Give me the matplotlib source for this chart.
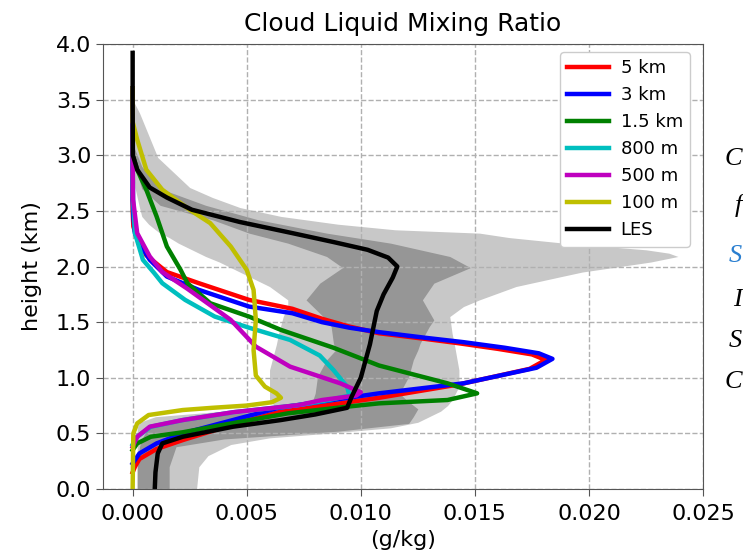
import numpy as np
import matplotlib
matplotlib.use('Agg')
import matplotlib.pyplot as plt

# profiles, x in g/kg, z in km
z_5km = [3.6, 3.0, 2.5, 2.36, 2.25, 2.1, 1.95, 1.85, 1.70, 1.62, 1.53, 1.46, 1.40, 1.35, 1.31, 1.26,
         1.21, 1.16, 1.08, 0.94, 0.82, 0.69, 0.58, 0.44, 0.36, 0.27, 0.2, 0.15]
x_5km = [0, 0, 0, 0.00003, 0.0002, 0.0006, 0.0015, 0.0029, 0.0051, 0.0070, 0.0083, 0.0095, 0.0108, 0.0128,
         0.0143, 0.0160, 0.0175, 0.0181, 0.0174, 0.0143, 0.0108, 0.0064, 0.0044, 0.0022, 0.00105, 0.0003,
         0.0001, 0.0]

z_3km = [3.6, 3.0, 2.6, 2.45, 2.3, 2.21, 2.06, 1.91, 1.79, 1.64, 1.58, 1.50, 1.45, 1.41, 1.36, 1.32,
         1.27, 1.22, 1.17, 1.09, 0.95, 0.86, 0.73, 0.62, 0.50, 0.41, 0.32, 0.26, 0.23]
x_3km = [0, 0, 0, 0.00003, 0.0001, 0.0003, 0.00075, 0.0015, 0.0029, 0.0051, 0.0070, 0.0083, 0.0095, 0.0108,
         0.0128, 0.0145, 0.0163, 0.0178, 0.0184, 0.0177, 0.0145, 0.0108, 0.0064, 0.0044, 0.0022, 0.00105,
         0.0003, 0.0001, 0.0]

z_1500m = [3.6, 3.0, 2.87, 2.69, 2.45, 2.18, 1.97, 1.85, 1.67, 1.55, 1.43, 1.27, 1.11, 0.95, 0.86,
           0.80, 0.77, 0.74, 0.68, 0.60, 0.51, 0.47, 0.41, 0.35]
x_1500m = [0, 0, 0.0002, 0.0006, 0.00105, 0.0015, 0.0021, 0.0024, 0.0034, 0.0051, 0.0065, 0.0088, 0.0108,
           0.0138, 0.0151, 0.0138, 0.0108, 0.0094, 0.0068, 0.0046, 0.0022, 0.0008, 0.0002, 0.0]

z_800m = [3.6, 3.0, 2.6, 2.3, 2.06, 1.94, 1.85, 1.70, 1.55, 1.45, 1.34, 1.20, 1.07, 0.92, 0.84,
          0.80, 0.755, 0.69, 0.62, 0.56, 0.47, 0.40]
x_800m = [0, 0, 0.00002, 0.0001, 0.00045, 0.00095, 0.0013, 0.0023, 0.0036, 0.0051, 0.0069, 0.0082,
          0.0088, 0.0094, 0.0095, 0.0086, 0.0073, 0.0044, 0.0022, 0.0008, 0.0002, 0.0]

z_500m = [3.6, 3.0, 2.6, 2.30, 2.09, 1.95, 1.80, 1.52, 1.28, 1.10, 0.95, 0.87, 0.84, 0.80, 0.755,
          0.69, 0.62, 0.56, 0.47, 0.38]
x_500m = [0, 0, 0.00002, 0.0002, 0.00075, 0.0013, 0.0024, 0.0043, 0.0054, 0.0069, 0.0091, 0.0100, 0.0098,
          0.0083, 0.0073, 0.0044, 0.0022, 0.00075, 0.0002, 0.0]

z_100m = [3.6, 3.3, 3.14, 2.87, 2.69, 2.51, 2.39, 2.18, 1.97, 1.79, 1.52, 1.25, 1.02, 0.92, 0.86,
          0.82, 0.78, 0.75, 0.73, 0.71, 0.665, 0.59, 0.50, 0.0]
x_100m = [0, 0, 0.0002, 0.0006, 0.0013, 0.0025, 0.0034, 0.0043, 0.0050, 0.0053, 0.0054, 0.0053, 0.0054,
          0.0058, 0.0063, 0.0065, 0.0061, 0.0050, 0.0035, 0.0022, 0.0007, 0.0002, 0.00003, 0.0]

z_les = [3.92, 3.5, 3.0, 2.87, 2.71, 2.62, 2.51, 2.40, 2.30, 2.22, 2.15, 2.08, 2.0, 1.90, 1.75, 1.6,
         1.3, 1.0, 0.83, 0.73, 0.67, 0.62, 0.56, 0.47, 0.41, 0.32, 0.15, 0.0]
x_les = [0, 0, 0.00001, 0.0002, 0.00075, 0.0015, 0.0026, 0.0047, 0.0070, 0.0088, 0.0103, 0.0112, 0.0116,
         0.0114, 0.0110, 0.0107, 0.0104, 0.0100, 0.0096, 0.0094, 0.0080, 0.0065, 0.0044, 0.0022, 0.0013,
         0.0011, 0.0010, 0.00097]

# LES spread (outer = light, inner = dark)
z_outer = [0, 0.2, 0.3, 0.4, 0.46, 0.5, 0.55, 0.6, 0.65, 0.7, 0.75, 0.8, 0.92, 1.07, 1.3, 1.4, 1.55,
           1.64, 1.70, 1.82, 1.91, 1.95, 2.04, 2.09, 2.12, 2.15, 2.21, 2.26, 2.30, 2.33, 2.38, 2.45,
           2.53, 2.62, 2.71, 2.98, 3.38, 3.5]
lo_outer = [0.0002, 0.0002, 0.0002, 0.0002, 0.0002, 0.0002, 0.0002, 0.0003, 0.0010, 0.0040, 0.0062,
            0.0060, 0.0060, 0.0060, 0.0063, 0.0064, 0.0066, 0.0068, 0.0068, 0.0060, 0.0051, 0.0047,
            0.0038, 0.0032, 0.0029, 0.0026, 0.0020, 0.0016, 0.0012, 0.0010, 0.0007, 0.0004, 0.0003,
            0.0002, 0.0001, 0.0, 0.0, 0.0]
hi_outer = [0.0028, 0.0029, 0.0033, 0.0043, 0.0060, 0.0085, 0.0113, 0.0125, 0.0130, 0.0135, 0.0138,
            0.0140, 0.0143, 0.0143, 0.0141, 0.0140, 0.0139, 0.0145, 0.0152, 0.0168, 0.0188, 0.0197,
            0.0227, 0.0239, 0.0235, 0.0225, 0.0189, 0.0165, 0.0152, 0.0115, 0.0090, 0.0065, 0.0047,
            0.0035, 0.0025, 0.0011, 0.0003, 0.0]

z_inner = [0, 0.2, 0.38, 0.45, 0.52, 0.59, 0.65, 0.72, 0.80, 0.86, 1.01, 1.16, 1.25, 1.31, 1.46, 1.52,
           1.70, 1.85, 1.99, 2.09, 2.21, 2.30, 2.42, 2.55, 2.70, 2.90, 3.1]
lo_inner = [0.0002, 0.0002, 0.0003, 0.0004, 0.0006, 0.0010, 0.0030, 0.0070, 0.0079, 0.0080, 0.0081,
            0.0085, 0.0089, 0.0088, 0.0087, 0.0085, 0.0076, 0.0082, 0.0092, 0.0085, 0.0068, 0.0051,
            0.0035, 0.0012, 0.0004, 0.0001, 0.0]
hi_inner = [0.0016, 0.0016, 0.0019, 0.0040, 0.0090, 0.0121, 0.0123, 0.0125, 0.0120, 0.0117, 0.0121,
            0.0123, 0.0125, 0.0126, 0.0130, 0.0132, 0.0127, 0.0132, 0.0148, 0.0139, 0.0113, 0.0085,
            0.0055, 0.0032, 0.0012, 0.0004, 0.0]

labels = ['5 km', '3 km', '1.5 km', '800 m', '500 m', '100 m', 'LES']
colors = ['r', 'b', 'g', 'c', 'm', 'y', 'k']
profiles = [(x_5km, z_5km), (x_3km, z_3km), (x_1500m, z_1500m), (x_800m, z_800m),
            (x_500m, z_500m), (x_100m, z_100m), (x_les, z_les)]

# bits of the neighbouring page text that show at the right edge
side_letters = ['C', 'f', 'S', 'I', 'S', 'C']
side_colors = ['k', 'k', '#2a7fd0', 'k', 'k', 'k']
side_rows = [165, 212, 262, 306, 347, 388]

fig = plt.figure(figsize=(7.43, 5.54), dpi=100)
ax = fig.add_axes([0.1386, 0.1173, 0.8076, 0.8033])

ax.fill_betweenx(z_outer, lo_outer, hi_outer, color='#c8c8c8', linewidth=0, zorder=1)
ax.fill_betweenx(z_inner, lo_inner, hi_inner, color='#969696', linewidth=0, zorder=1.1)

for (x, z), c, lab in zip(profiles, colors, labels):
    ax.plot(x, z, color=c, linewidth=3.2, label=lab, zorder=2)

ax.set_axisbelow('line')
ax.grid(True, linestyle='--', color='#b0b0b0', linewidth=1)
ax.set_xlim(-0.0013, 0.025)
ax.set_ylim(0, 4)
ax.set_xticks(np.arange(0, 0.0251, 0.005))
ax.set_yticks(np.arange(0, 4.01, 0.5))
ax.yaxis.set_major_formatter(matplotlib.ticker.FormatStrFormatter('%.1f'))
ax.xaxis.set_major_formatter(matplotlib.ticker.FormatStrFormatter('%.3f'))
ax.tick_params(labelsize=16, direction='out', length=5, color='#555555')
ax.tick_params(axis='x', pad=6)
for s in ax.spines.values():
    s.set_color('#555555')
ax.set_xlabel('(g/kg)', fontsize=16, labelpad=4)
ax.set_ylabel('height (km)', fontsize=16, labelpad=10)
ax.set_title('Cloud Liquid Mixing Ratio', fontsize=18, pad=9)
ax.legend(loc='upper right', bbox_to_anchor=(690 / 743, 1 - 52 / 554), bbox_transform=fig.transFigure,
          borderaxespad=0, fontsize=13, handlelength=2.3, handletextpad=0.65, framealpha=1)

for letter, c, row in zip(side_letters, side_colors, side_rows):
    fig.text(742 / 743, 1 - row / 554, letter, color=c, fontsize=19, style='italic',
             family='Liberation Serif', va='baseline', ha='right')

fig.savefig('out.png', dpi=100)
